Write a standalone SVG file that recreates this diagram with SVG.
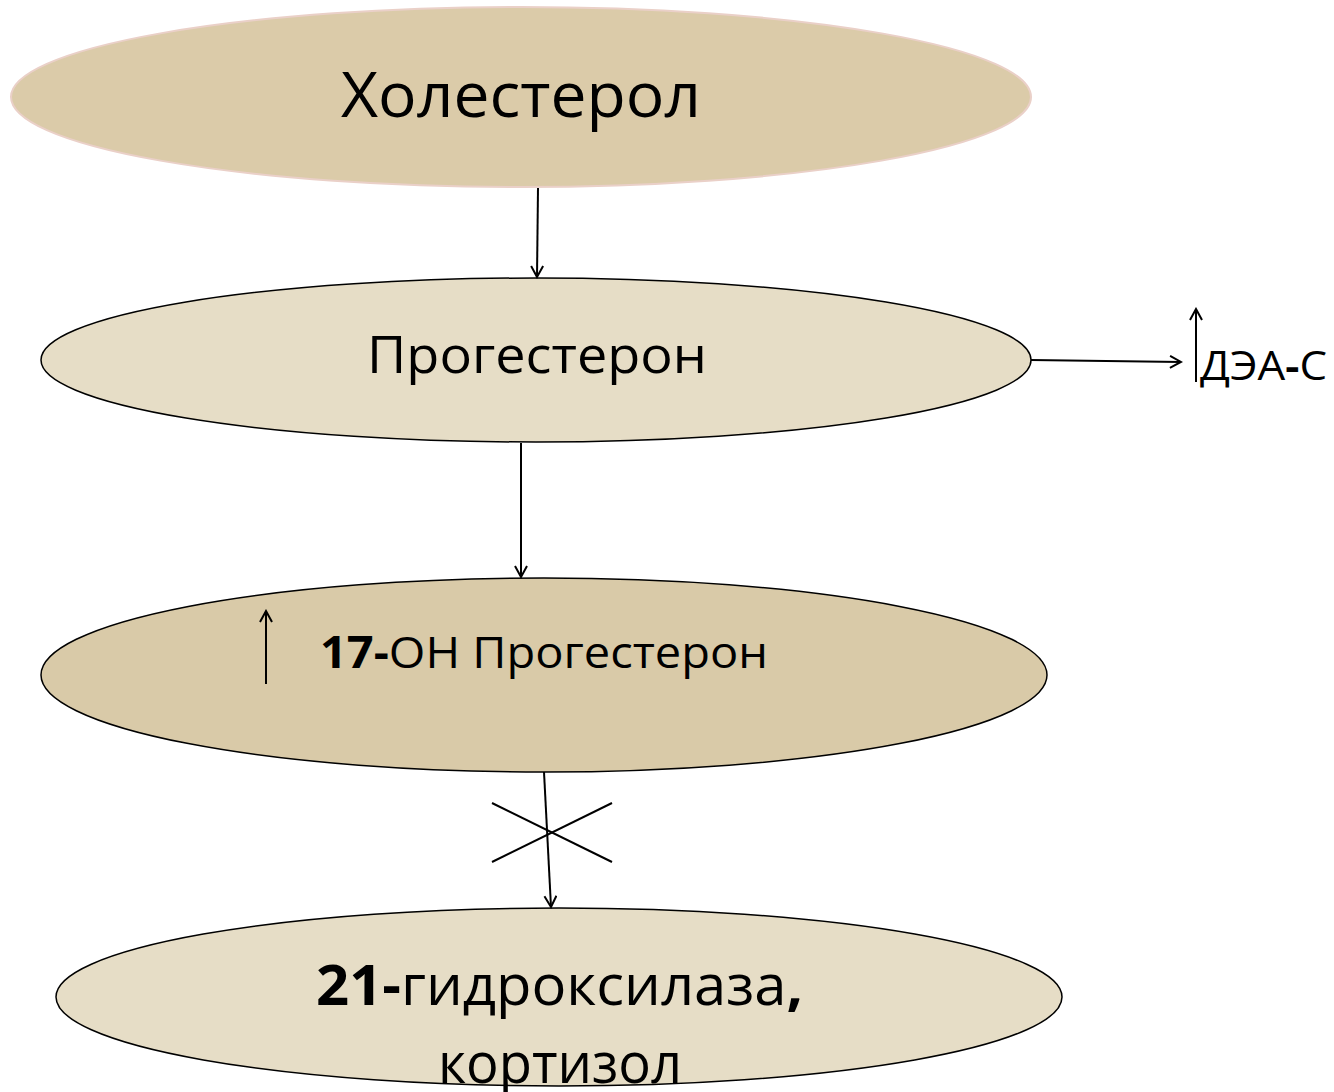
<svg xmlns="http://www.w3.org/2000/svg" width="1334" height="1092" viewBox="0 0 1334 1092">
<defs>
<style>
.t{font-family:"Open Sans","Noto Sans","DejaVu Sans",sans-serif;fill:#000}
.b{font-weight:bold}
.ln{stroke:#000;stroke-width:2;fill:none}
</style>
<marker id="ah" markerWidth="14" markerHeight="14" refX="12" refY="7" orient="auto" markerUnits="userSpaceOnUse">
<path d="M1,1 L12,7 L1,13" fill="none" stroke="#000" stroke-width="2"/>
</marker>
</defs>
<rect width="1334" height="1092" fill="#fff"/>
<g id="n1">
<ellipse cx="521" cy="97" rx="510" ry="90" fill="#dbcba9" stroke="#ead0c8" stroke-width="2"/>
<text class="t" x="341" y="117" font-size="62" textLength="360" lengthAdjust="spacingAndGlyphs">Холестерол</text>
</g>
<g id="n2">
<ellipse cx="536" cy="360" rx="495" ry="82" fill="#e6ddc6" stroke="#000" stroke-width="1.5"/>
<text class="t" x="367" y="373" font-size="52" textLength="340" lengthAdjust="spacingAndGlyphs">Прогестерон</text>
</g>
<g id="n3">
<ellipse cx="544" cy="675" rx="503" ry="97" fill="#d9caa8" stroke="#000" stroke-width="1.5"/>
<text class="t" x="320" y="668" font-size="44" textLength="448" lengthAdjust="spacingAndGlyphs"><tspan class="b">17-</tspan>ОН Прогестерон</text>
</g>
<g id="n4">
<ellipse cx="559" cy="997" rx="503" ry="89" fill="#e6ddc6" stroke="#000" stroke-width="1.5"/>
<text class="t" x="316" y="1005" font-size="56" textLength="487" lengthAdjust="spacingAndGlyphs"><tspan class="b">21-</tspan>гидроксилаза<tspan class="b">,</tspan></text>
<text class="t" x="438" y="1083" font-size="56" textLength="244" lengthAdjust="spacingAndGlyphs">кортизол</text>
</g>
<g id="n5">
<text class="t" x="1200" y="380" font-size="40" textLength="127" lengthAdjust="spacingAndGlyphs">ДЭА<tspan class="b">-</tspan>С</text>
</g>
<g id="connectors">
<line class="ln" x1="538" y1="188" x2="537" y2="277" marker-end="url(#ah)"/>
<line class="ln" x1="521" y1="443" x2="521" y2="577" marker-end="url(#ah)"/>
<line class="ln" x1="1031" y1="360" x2="1181" y2="362" marker-end="url(#ah)"/>
<line class="ln" x1="544" y1="772" x2="551" y2="907" marker-end="url(#ah)"/>
<line class="ln" x1="492" y1="803" x2="612" y2="862"/>
<line class="ln" x1="492" y1="862" x2="612" y2="803"/>
<line class="ln" x1="1196" y1="382" x2="1196" y2="309" marker-end="url(#ah)"/>
<line class="ln" x1="266" y1="684" x2="266" y2="611" marker-end="url(#ah)"/>
</g>
</svg>
